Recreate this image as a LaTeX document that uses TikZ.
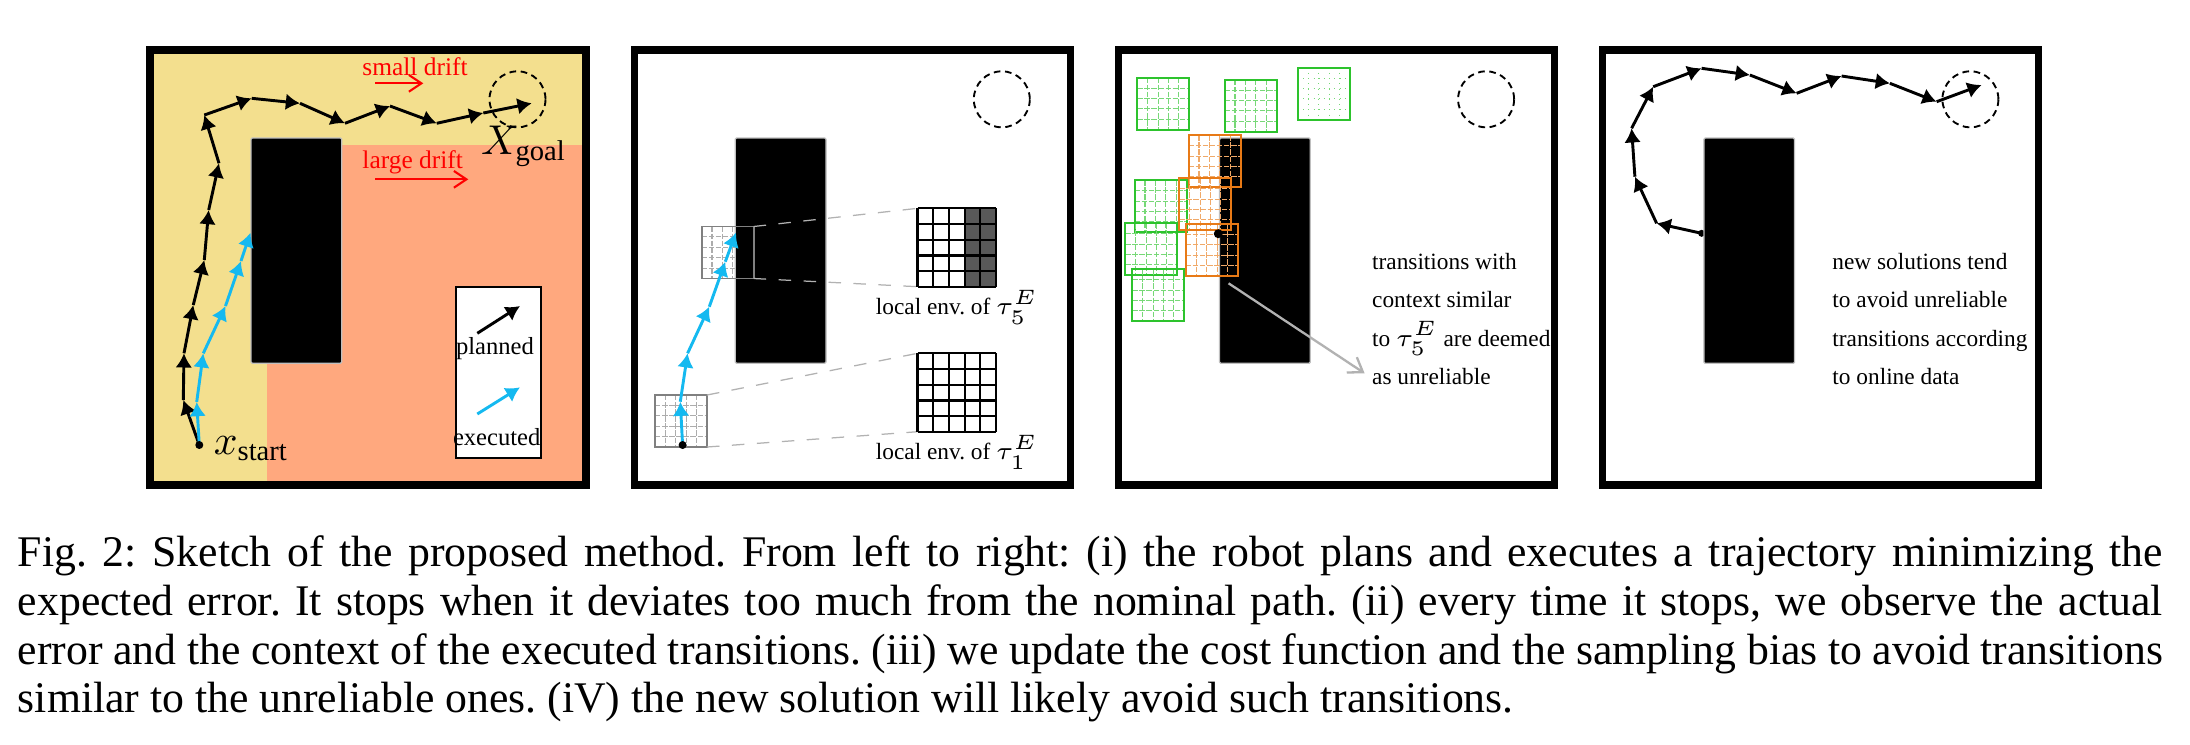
\documentclass[tikz,border=0pt]{standalone}
\usepackage{fontspec}
\setmainfont{Liberation Serif}
\usetikzlibrary{arrows.meta}
\frenchspacing

\definecolor{driftyellow}{RGB}{243,223,142}
\definecolor{driftsalmon}{RGB}{255,168,126}
\definecolor{execblue}{RGB}{20,185,240}
\definecolor{ctxgreen}{RGB}{45,195,45}
\definecolor{ctxorange}{RGB}{232,122,22}

\tikzset{
  panelframe/.style={line width=1.7pt},
  obstacle/.style={fill=black, draw=black!25, line width=0.3pt, rounded corners=0.3pt},
  goalzone/.style={line width=0.45pt, dash pattern=on 1.6pt off 1.1pt},
  planned/.style={line width=0.7pt, -{Latex[length=3.4pt,width=4pt]}},
  executed/.style={planned, execblue},
  drift/.style={red, line width=0.5pt, -{Straight Barb[length=3pt,width=4pt]}},
  lbl/.style={inner sep=0, font=\fontsize{5.6}{6.7}\selectfont},
  mathlbl/.style={inner sep=0, font=\fontsize{9.8}{11}\selectfont},
  note/.style={inner sep=0, anchor=north west, align=left, font=\fontsize{5.6}{9.2}\selectfont},
  zoomline/.style={black!30, line width=0.3pt, dashed},
}

% 5x5 context grid: [line style]{colour}{x}{y} of the top left corner
\newcommand{\ctxgrid}[4][dash pattern=on 1.3pt off 0.4pt]{%
  \foreach \k in {1,...,4} {
    \draw[#2!65, line width=0.25pt, #1] ({#3+10.4*\k},#4) -- ++(0,52);
    \draw[#2!65, line width=0.25pt, #1] (#3,{#4+10.4*\k}) -- ++(52,0);
  }
  \draw[#2, line width=0.45pt] (#3,#4) rectangle ++(52,52);
}

\begin{document}
\begin{tikzpicture}[x=0.24pt, y={(0pt,-0.24pt)}]
  \fill[white] (0,0) rectangle (2190,744);
  \useasboundingbox (0,0) rectangle (2190,744);

  % (i) plan and execute
  \begin{scope}[shift={(150,50)}]
    % drift regions
    \fill[driftyellow] (0,0) rectangle (436,435);
    \fill[driftsalmon] (116.7,95) rectangle (436,435);
    \fill[obstacle] (101,88) rectangle (191.7,313.3);
    \draw[goalzone] (367.5,49.3) circle[radius=28];
    \node[mathlbl] (goal1) at (374,96) {$X_{\mathrm{goal}}$};
    \node[mathlbl, anchor=west] (start1) at (63,399) {$x_{\mathrm{start}}$};
    % drift arrows
    \node[lbl, red, font=\fontsize{6.1}{7}\selectfont] (small) at (265,16.7) {small drift};
    \draw[drift] (225,33.3) -- (273.3,33.3);
    \node[lbl, red, font=\fontsize{6.1}{7}\selectfont] (large) at (262.7,112.7) {large drift};
    \draw[drift] (225,129.3) -- (318.3,129.3);
    % planned trajectory
    \coordinate (s1) at (49.3,395);
    \foreach \p [remember=\p as \q (initially s1)] in {{33.3,350},{34,303.3},{43.3,255},{54.3,210},{58.7,160},{69,113.3},{54.3,65},{101.7,48.3},{150,53.3},{195,73.3},{240,56},{286.7,73.3},{333.3,63},{381.7,53.3}}
      \draw[planned] (\q) -- (\p);
    % executed trajectory
    \foreach \p [remember=\p as \q (initially s1)] in {{46.7,352},{53.3,303.3},{75.5,256},{91,211},{100.5,182.7}}
      \draw[executed] (\q) -- (\p);
    \fill (s1) circle[radius=4];
    % legend
    \draw[fill=white, line width=0.4pt] (306,236.7) rectangle (390.7,408.3);
    \draw[planned] (327.3,283.3) -- (370,256);
    \node[lbl, font=\fontsize{5.9}{7}\selectfont] (legplan) at (345,298.3) {planned};
    \draw[executed] (327.3,364) -- (370,337.3);
    \node[lbl, font=\fontsize{5.9}{7}\selectfont] (legexec) at (346.7,386.7) {executed};
    \draw[panelframe] (0,0) rectangle (436,435);
  \end{scope}

  % (ii) observe the local environments
  \begin{scope}[shift={(634.3,50)}]
    \ctxgrid{gray}{20.7}{345}
    \ctxgrid{gray}{67.3}{176.5}
    \fill[obstacle] (101,88) rectangle (191.7,313.3);
    \draw[gray, line width=0.45pt] (67.3,176.5) rectangle ++(52,52);
    \draw[goalzone] (367.5,49.3) circle[radius=28];
    % zoomed environments
    \coordinate (env5ne) at (119.3,176.5);
    \coordinate (env5se) at (119.3,228.5);
    \coordinate (env1ne) at (72.7,345);
    \coordinate (env1se) at (72.7,397);
    \coordinate (big5nw) at (283.3,158.3);
    \coordinate (big5sw) at (283.3,236.7);
    \coordinate (big1nw) at (283.3,303.3);
    \coordinate (big1sw) at (283.3,381.7);
    \draw[zoomline] (env5ne) -- (big5nw);
    \draw[zoomline] (env5se) -- (big5sw);
    \draw[zoomline] (env1ne) -- (big1nw);
    \draw[zoomline] (env1se) -- (big1sw);
    \fill[black!65] (330.4,158.3) rectangle ++(31.4,78.4);
    \foreach \k in {0,...,5} {
      \draw[line width=0.55pt] (283.3+15.68*\k,158.3) -- ++(0,78.4);
      \draw[line width=0.55pt] (283.3,158.3+15.68*\k) -- ++(78.4,0);
      \draw[line width=0.55pt] (283.3+15.68*\k,303.3) -- ++(0,78.4);
      \draw[line width=0.55pt] (283.3,303.3+15.68*\k) -- ++(78.4,0);
    }
    \node[lbl, anchor=north] (env5) at (322.5,239) {local env.\ of $\tau_5^E$};
    \node[lbl, anchor=north] (env1) at (322.5,384) {local env.\ of $\tau_1^E$};
    % executed trajectory
    \coordinate (s2) at (48.3,395);
    \foreach \p [remember=\p as \q (initially s2)] in {{46,351.7},{53.3,303.3},{75,256.7},{91,211.7},{101.7,182.7}}
      \draw[executed] (\q) -- (\p);
    \fill (s2) circle[radius=4];
    \draw[panelframe] (0,0) rectangle (436,435);
  \end{scope}

  % (iii) similar contexts
  \begin{scope}[shift={(1118.6,50)}]
    \fill[obstacle] (101,88) rectangle (191.7,313.3);
    \draw[goalzone] (367.5,49.3) circle[radius=28];
    \ctxgrid{ctxgreen}{18.7}{27.7}
    \ctxgrid{ctxgreen}{106}{29.7}
    \ctxgrid[densely dotted]{ctxgreen}{179.3}{17.7}
    \ctxgrid{ctxgreen}{16}{130.3}
    \ctxgrid{ctxgreen}{6.7}{173.3}
    \ctxgrid{ctxgreen}{13.7}{219.3}
    \ctxgrid{ctxorange}{70}{85.3}
    \ctxgrid{ctxorange}{60.7}{128.3}
    \ctxgrid{ctxorange}{67.3}{174}
    \fill (99.7,183.7) circle[radius=4.5];
    \node[note] (note3) at (252.7,202.4) {transitions with\\context similar\\to $\tau_5^E$ are deemed\\as unreliable};
    \coordinate (ctxtail) at (110,233.3);
    \coordinate (ctxtip) at (246,323.3);
    \draw[black!30, line width=0.55pt, -{Straight Barb[length=3.2pt,width=4.4pt]}] (ctxtail) -- (ctxtip);
    \draw[panelframe] (0,0) rectangle (436,435);
  \end{scope}

  % (iv) new solution
  \begin{scope}[shift={(1602.9,50)}]
    \coordinate (s4) at (98.7,183.3);
    \fill (s4) circle[radius=3.5];
    \fill[obstacle] (101,88) rectangle (191.7,313.3);
    \draw[goalzone] (367.5,49.3) circle[radius=28];
    \foreach \p [remember=\p as \q (initially s4)] in {{53.7,173.3},{32,126.7},{28.7,78.3},{50.3,36.7},{98.7,18.3},{147,25},{193.7,43.3},{238.7,26},{287,33.3},{333.7,51.7},{378.7,35}}
      \draw[planned] (\q) -- (\p);
    \node[note] (note4) at (228.7,202.4) {new solutions tend\\to avoid unreliable\\transitions according\\to online data};
    \draw[panelframe] (0,0) rectangle (436,435);
  \end{scope}

  % caption
  \node[anchor=north west, inner sep=0, align=left, font=\fontsize{10.5}{11.7}\selectfont] (caption) at (17,535) {%
    \makebox[514.8pt][s]{Fig. 2: Sketch of the proposed method. From left to right: (i) the robot plans and executes a trajectory minimizing the}\\
    \makebox[514.8pt][s]{expected error. It stops when it deviates too much from the nominal path. (ii) every time it stops, we observe the actual}\\
    \makebox[514.8pt][s]{error and the context of the executed transitions. (iii) we update the cost function and the sampling bias to avoid transitions}\\
    similar to the unreliable ones. (iV) the new solution will likely avoid such transitions.};
\end{tikzpicture}
\end{document}
